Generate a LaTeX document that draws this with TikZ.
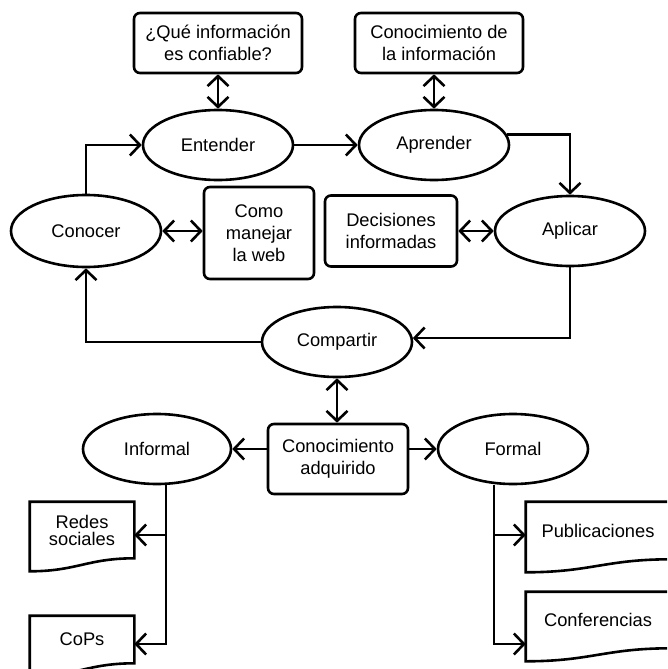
\documentclass[tikz,border=0pt]{standalone}
\usepackage{fontspec}
\setmainfont{Liberation Sans}
\usetikzlibrary{arrows.meta,positioning,shapes,calc}

\begin{document}
\begin{tikzpicture}[x=1pt,y=-1pt,line width=2.6pt,>={Straight Barb[length=10pt,width=21pt]},
                font=\fontsize{18.3pt}{22pt}\selectfont,
                oval node/.style={ellipse,draw,minimum width=150pt,minimum height=70pt,inner sep=0pt},
                box node/.style={rectangle,draw,rounded corners=6pt,align=center,inner sep=0pt},
                doc node/.style={rectangle,align=center,inner sep=0pt}]
            \useasboundingbox (0,0) rectangle (667,669);
            \clip (0,0) rectangle (667,669);
            % cycle
            \node[box node,minimum width=168pt,minimum height=60pt] (pq) at (218,43) {¿Qué información\\es confiable?};
            \node[box node,minimum width=168pt,minimum height=60pt] (ci) [right of=pq,node distance=221pt] {Conocimiento de\\la información};
            \node[oval node] (ent) at (218,145) {Entender};
            \node[oval node] (apr) [right of=ent,node distance=216pt] {Aprender};
            \node[oval node,minimum height=72pt] (con) at (86,231) {Conocer};
            \node[box node,minimum width=110pt,minimum height=92pt] (web) at (259,233) {Como\\manejar\\la web};
            \node[box node,minimum width=132pt,minimum height=71pt] (dec) at (391,231) {Decisiones\\informadas};
            \node[oval node] (apl) at (570,231) {Aplicar};
            \node[oval node] (comp) at (337,342) {Compartir};
            % result
            \node[box node,minimum width=140pt,minimum height=70pt] (ca) at (338,459) {Conocimiento\\adquirido};
            \node[oval node,minimum width=148pt] (inf) at (157,449) {Informal};
            \node[oval node] (form) at (513,449) {Formal};
            \node[doc node,minimum width=102pt,minimum height=54pt,font=\fontsize{18.3pt}{17pt}\selectfont] (redes) at (82,530) {Redes\\sociales};
            \node[doc node,minimum width=102pt,minimum height=45pt] (cops) at (82,639.5) {CoPs};
            \node[doc node,minimum width=142pt,minimum height=55pt] (pub) at (598,530.5) {Publicaciones};
            \node[doc node,minimum width=142pt,minimum height=54pt] (conf) at (598,620) {Conferencias};
            \foreach \n in {redes,cops,pub,conf}
                \draw (\n.north west) -- (\n.north east) -- (\n.south east)
                    .. controls ($(\n.south east)!0.45!(\n.south west)$) and ($(\n.south west)!0.45!(\n.south east)+(0,-13pt)$) .. ([yshift=-13pt]\n.south west) -- cycle;
            \coordinate (inf1) at (166,535);
            \coordinate (inf2) at (166,644);
            \coordinate (form1) at (494,535);
            \coordinate (form2) at (494,644);
            % connectors
            \path[<->]
                (pq) edge (ent)
                (apr.north |- ci.south) edge (apr.north)
                (con.east) edge (con.east -| web.west)
                (dec.east |- apl.west) edge (apl.west)
                (comp.south) edge (comp.south |- ca.north);
            \path[->]
                (ent) edge (apr)
                (ca.west |- inf.east) edge (inf.east)
                (ca.east |- form.west) edge (form.west);
            \draw[->] (con.north) |- (ent.west);
            \draw[->] (apr.8) -| (apl.north);
            \draw[->] (apl.south) |- (comp.3);
            \draw[->] (comp.west) -| (con.south);
            \draw[->] (inf.south -| inf1) -- (inf2) -- (inf2 -| cops.east);
            \draw[->] (inf1) -- (inf1 -| redes.east);
            \draw[->] (form.south -| form1) -- (form2) -- (form2 -| conf.west);
            \draw[->] (form1) -- (form1 -| pub.west);
        \end{tikzpicture}
\end{document}
